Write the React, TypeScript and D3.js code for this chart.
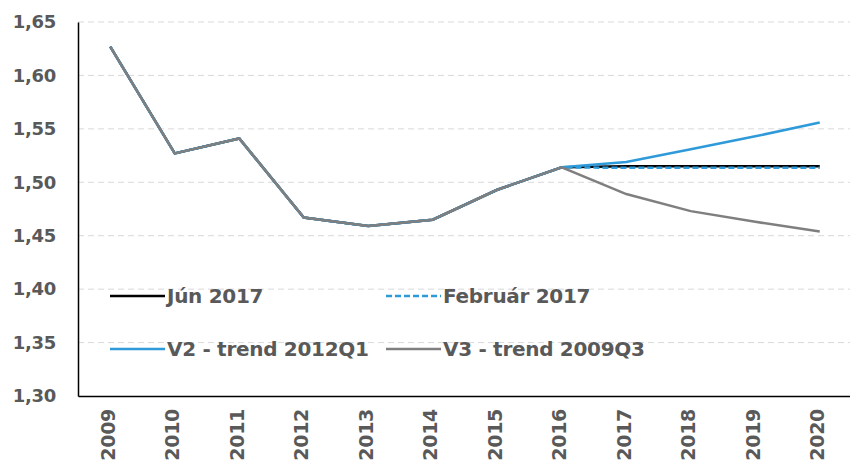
import React, { useEffect, useRef } from 'react';
import * as d3 from 'd3';

const years = ['2009', '2010', '2011', '2012', '2013', '2014', '2015', '2016', '2017', '2018', '2019', '2020'];
const history = [1.627, 1.527, 1.541, 1.467, 1.459, 1.465, 1.493, 1.514];
const jun2017 = [...history, 1.515, 1.515, 1.515, 1.515];
const feb2017 = [...history, 1.5135, 1.5135, 1.5135, 1.5135];
const v2Trend = [...history, 1.519, 1.531, 1.543, 1.556];
const v3Trend = [...history, 1.489, 1.473, 1.463, 1.454];
const yTicks = [1.3, 1.35, 1.4, 1.45, 1.5, 1.55, 1.6, 1.65];

const series = [
  { name: 'Jún 2017', values: jun2017, color: '#000000', dash: null },
  { name: 'Február 2017', values: feb2017, color: '#2e9ad9', dash: '6,3' },
  { name: 'V2 - trend 2012Q1', values: v2Trend, color: '#2e9ad9', dash: null },
  { name: 'V3 - trend 2009Q3', values: v3Trend, color: '#7f7f7f', dash: null },
];

const App = () => {
  const ref = useRef<SVGSVGElement>(null);

  useEffect(() => {
    document.body.style.margin = '0';
    const width = 850;
    const height = 462;
    const margin = { top: 22, right: 0, bottom: 66, left: 78 };
    const font = '"DejaVu Sans", sans-serif';

    const svg = d3.select(ref.current).attr('width', width).attr('height', height);
    svg.selectAll('*').remove();

    const x = d3.scaleBand().domain(years).range([margin.left, width - margin.right + 2]);
    const y = d3.scaleLinear().domain([1.3, 1.65]).range([height - margin.bottom, margin.top]);
    const cx = (i: number) => (x(years[i]) as number) + x.bandwidth() / 2;

    // gridlines
    svg
      .append('g')
      .selectAll('line')
      .data(yTicks.slice(1))
      .enter()
      .append('line')
      .attr('x1', margin.left)
      .attr('x2', width)
      .attr('y1', (d) => y(d))
      .attr('y2', (d) => y(d))
      .attr('stroke', '#d9d9d9')
      .attr('stroke-width', 1)
      .attr('stroke-dasharray', '6,4');

    // y axis
    const yAxis = svg
      .append('g')
      .attr('transform', `translate(${margin.left},0)`)
      .call(d3.axisLeft(y).tickValues(yTicks).tickSize(0).tickPadding(22).tickFormat((d) => d3.format('.2f')(d as number).replace('.', ',')));
    yAxis.select('.domain').attr('stroke', '#000').attr('stroke-width', 1.5);
    yAxis
      .selectAll('text')
      .style('font-family', font)
      .style('font-size', '18px')
      .style('font-weight', 'bold')
      .style('letter-spacing', '-0.3px')
      .attr('fill', '#595959');

    // x axis
    const xAxis = svg
      .append('g')
      .attr('transform', `translate(0,${height - margin.bottom})`)
      .call(d3.axisBottom(x).tickSize(0).tickPadding(0));
    xAxis.select('.domain').attr('stroke', '#000').attr('stroke-width', 1.5);
    xAxis
      .selectAll('text')
      .attr('transform', 'rotate(-90)')
      .attr('x', -13)
      .attr('y', -2)
      .attr('dy', '0.35em')
      .attr('text-anchor', 'end')
      .style('font-family', font)
      .style('font-size', '19px')
      .style('font-weight', 'bold')
      .style('letter-spacing', '-0.3px')
      .attr('fill', '#595959');

    // lines
    const line = d3
      .line<number>()
      .x((_, i) => cx(i))
      .y((d) => y(d));

    series.forEach((s) => {
      svg
        .append('path')
        .datum(s.values)
        .attr('fill', 'none')
        .attr('stroke', s.color)
        .attr('stroke-width', 2.5)
        .attr('stroke-dasharray', s.dash)
        .attr('d', line);
    });

    // legend
    const legendPos = [
      { x: 110, y: 296 },
      { x: 386, y: 296 },
      { x: 110, y: 349 },
      { x: 386, y: 349 },
    ];
    series.forEach((s, i) => {
      const g = svg.append('g').attr('transform', `translate(${legendPos[i].x},${legendPos[i].y})`);
      g.append('line')
        .attr('x1', 0)
        .attr('x2', 55)
        .attr('stroke', s.color)
        .attr('stroke-width', 2.5)
        .attr('stroke-dasharray', s.dash);
      g.append('text')
        .attr('x', 57)
        .attr('dy', '0.35em')
        .style('font-family', font)
        .style('font-size', '20px')
        .style('font-weight', 'bold')
        .style('letter-spacing', '-0.3px')
        .attr('fill', '#595959')
        .text(s.name);
    });
  }, []);

  return <svg ref={ref} style={{ display: 'block' }}></svg>;
};

export default App;
